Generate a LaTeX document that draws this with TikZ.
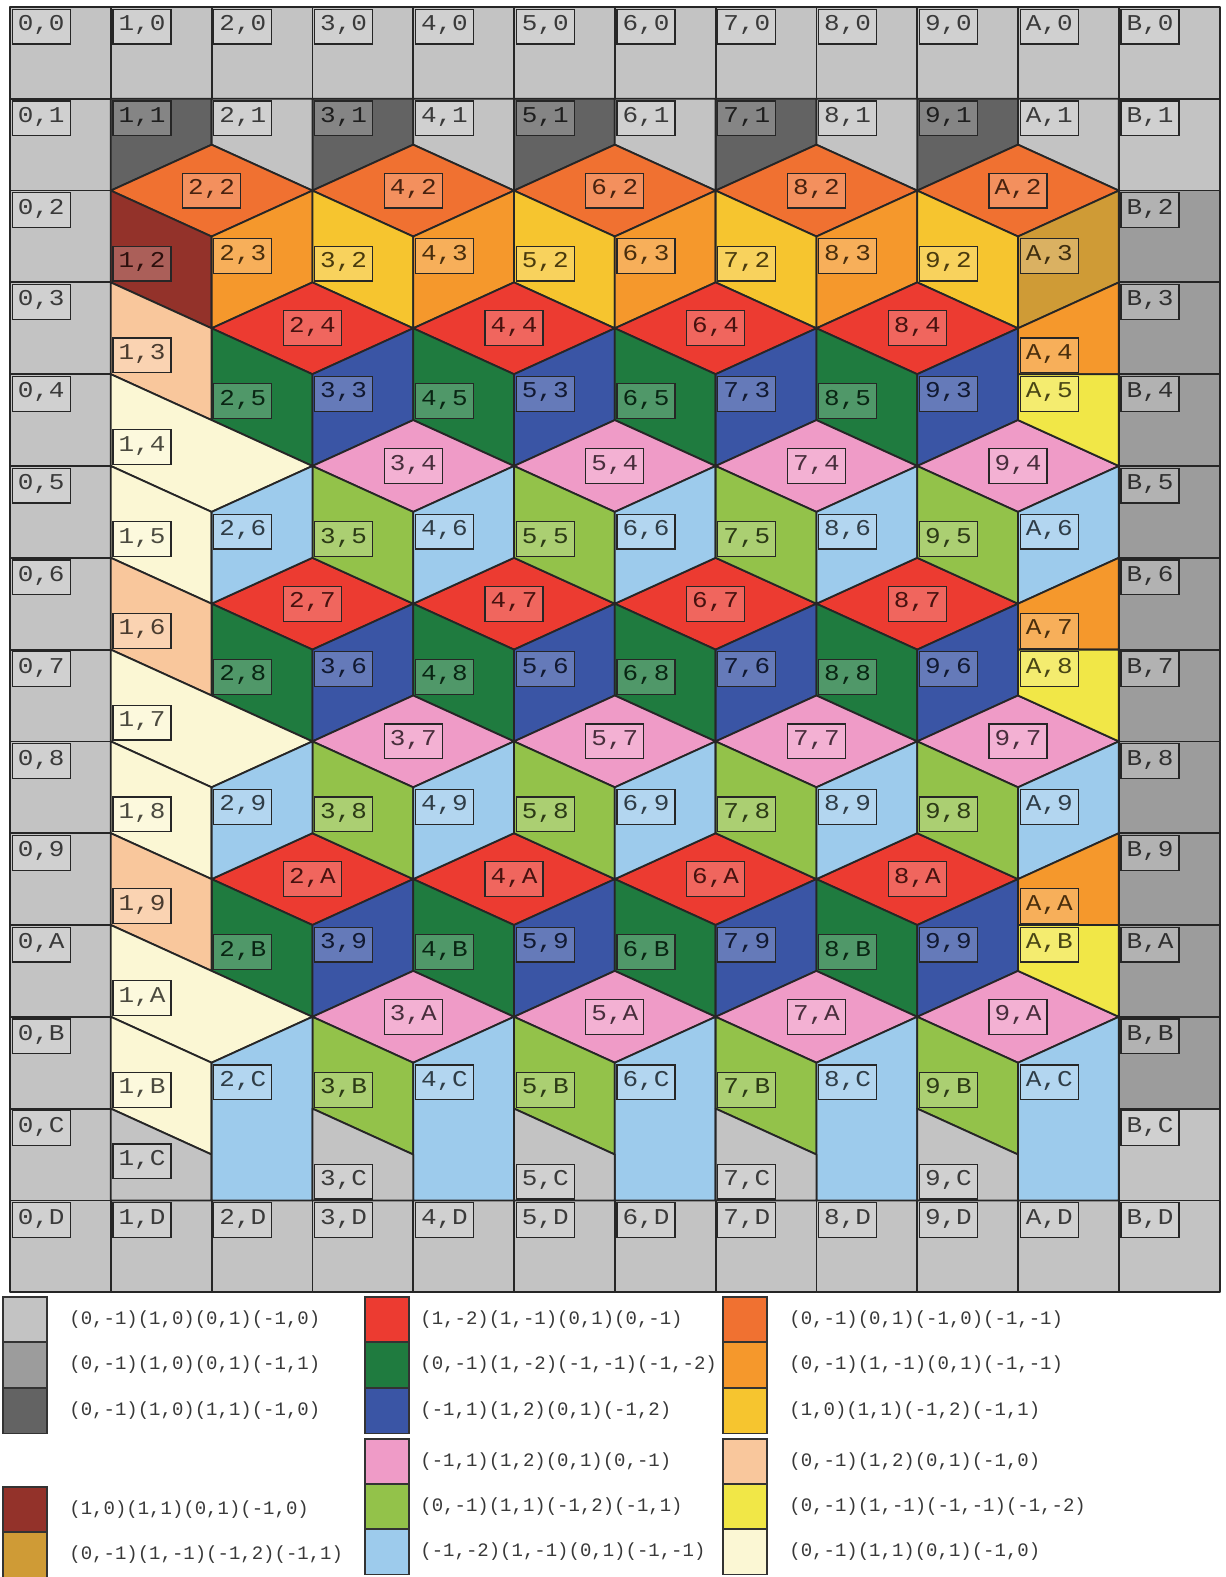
\documentclass[tikz,border=0pt]{standalone}
\usepackage{fontspec}
\usepackage{tikz}
\usetikzlibrary{positioning}
\newfontfamily\tagfont[FakeStretch=1.15]{Liberation Mono}
\newfontfamily\legfont{Liberation Mono}
\definecolor{lgray}{HTML}{C3C3C3}
\definecolor{mgray}{HTML}{9C9C9C}
\definecolor{dgray}{HTML}{636363}
\definecolor{brick}{HTML}{93322A}
\definecolor{ochre}{HTML}{CF9B36}
\definecolor{cubered}{HTML}{EC3B31}
\definecolor{cubegreen}{HTML}{1F7B3F}
\definecolor{cubeblue}{HTML}{3A55A5}
\definecolor{cubepink}{HTML}{EF9BC7}
\definecolor{leafgreen}{HTML}{93C24A}
\definecolor{skyblue}{HTML}{9DCBEC}
\definecolor{toporange}{HTML}{F07131}
\definecolor{sideorange}{HTML}{F5982C}
\definecolor{sideyellow}{HTML}{F6C52F}
\definecolor{peach}{HTML}{F9C79C}
\definecolor{lemon}{HTML}{F1E747}
\definecolor{cream}{HTML}{FBF7D4}
\tikzset{
  face/.style={fill=#1, draw=black!85, line width=0.9pt, line join=round},
  tag/.style={draw=black!85, line width=0.6pt, fill=#1!78!white, text=#1!30!black,
    font=\tagfont\fontsize{11.3pt}{13pt}\selectfont, text height=7.5pt, text depth=3.5pt,
    inner xsep=2pt, inner ysep=3.2pt, minimum width=29pt},
  nw/.style={anchor=north west, xshift=0.8pt, yshift=-0.8pt},
  sw/.style={anchor=south west, xshift=0.8pt, yshift=0.4pt},
  swatch/.style={draw=black!80, line width=0.8pt, fill=#1, anchor=north west,
    minimum width=22pt, minimum height=22.75pt, inner sep=0pt, outer sep=0pt},
  legtext/.style={font=\legfont\fontsize{9.5pt}{11pt}\selectfont, text=black!78, inner sep=0pt},
}
\newcommand{\lab}[2]{#1,#2}
% whole square of the grid
\newcommand{\gridcell}[5]{%
  \filldraw[face=#3] (#1,#2) rectangle ++(1,1);
  \node[tag=#3, nw] (n#4#5) at (#1,#2) {#4,#5};}
% cube: [flat bottom] x, y, top, left, right colour, top, left, right label
\newcommand{\cube}[9][]{%
  \filldraw[face=#4] (#2,#3-0.5) -- (#2+1,#3) -- (#2,#3+0.5) -- (#2-1,#3) -- cycle;
  \filldraw[face=#5] (#2-1,#3) -- (#2,#3+0.5) -- (#2,#3+1.5) -- (#2-1,#3+1) -- cycle;
  \if\relax\detokenize{#1}\relax
    \filldraw[face=#6] (#2,#3+0.5) -- (#2+1,#3) -- (#2+1,#3+1) -- (#2,#3+1.5) -- cycle;
  \else
    \filldraw[face=#6] (#2,#3+0.5) -- (#2+1,#3) -- (#2+1,#1) -- (#2,#1) -- cycle;
  \fi
  \node[tag=#4] (n#7) at (#2,#3) {\lab#7};
  \node[tag=#5, sw] (n#8) at (#2-1,#3+1) {\lab#8};
  \node[tag=#6, nw] (n#9) at (#2,#3+0.5) {\lab#9};}

\begin{document}
\begin{tikzpicture}[x=0.5pt, y=-0.5pt]
  \useasboundingbox[fill=white] (0,0) rectangle (1225,1577);
  \begin{scope}[shift={(10,7)}, x=50.4pt, y=-45.9pt]
    % frame of whole cells
    \foreach \rr/\nn in {0/0,1/1,2/2,3/3,4/4,5/5,6/6,7/7,8/8,9/9,10/A,11/B,12/C,13/D}
      {\gridcell{0}{\rr}{lgray}{0}{\nn}}
    \foreach \cc/\nn in {1/1,2/2,3/3,4/4,5/5,6/6,7/7,8/8,9/9,10/A,11/B}
      {\gridcell{\cc}{0}{lgray}{\nn}{0}\gridcell{\cc}{13}{lgray}{\nn}{D}}
    \gridcell{11}{1}{lgray}{B}{1}
    \foreach \rr/\nn in {2/2,3/3,4/4,5/5,6/6,7/7,8/8,9/9,10/A,11/B}
      {\gridcell{11}{\rr}{mgray}{B}{\nn}}
    \gridcell{11}{12}{lgray}{B}{C}

    % row 1
    \foreach \cc/\nn in {1/1,3/3,5/5,7/7,9/9} {
      \filldraw[face=dgray] (\cc,1) -- (\cc+1,1) -- (\cc+1,1.5) -- (\cc,2) -- cycle;
      \node[tag=dgray, nw] (n\nn1) at (\cc,1) {\nn,1};
    }
    \foreach \cc/\nn in {2/2,4/4,6/6,8/8,10/A} {
      \filldraw[face=lgray] (\cc,1) -- (\cc+1,1) -- (\cc+1,2) -- (\cc,1.5) -- cycle;
      \node[tag=lgray, nw] (n\nn1) at (\cc,1) {\nn,1};
    }

    % cubes
    \cube{2}{2}{toporange}{brick}{sideorange}{22}{12}{23}
    \foreach \cc/\xa/\xb in {4/4/3,6/6/5,8/8/7}
      {\cube{\cc}{2}{toporange}{sideyellow}{sideorange}{\xa2}{\xb2}{\xa3}}
    \cube{10}{2}{toporange}{sideyellow}{ochre}{A2}{92}{A3}
    \foreach \yy/\topl/\lefl/\rigl in {3.5/4/5/3, 6.5/7/8/6, 9.5/A/B/9}
      \foreach \cc/\xa/\xb in {3/2/3,5/4/5,7/6/7,9/8/9}
        {\cube{\cc}{\yy}{cubered}{cubegreen}{cubeblue}{\xa\topl}{\xa\lefl}{\xb\rigl}}
    \foreach \yy/\topl/\lefl/\rigl in {5/4/5/6, 8/7/8/9}
      \foreach \cc/\xa/\xb in {4/3/4,6/5/6,8/7/8,10/9/A}
        {\cube{\cc}{\yy}{cubepink}{leafgreen}{skyblue}{\xa\topl}{\xa\lefl}{\xb\rigl}}
    \foreach \cc/\xa/\xb in {4/3/4,6/5/6,8/7/8,10/9/A}
      {\cube[13]{\cc}{11}{cubepink}{leafgreen}{skyblue}{\xa A}{\xa B}{\xb C}}

    % left column
    \foreach \yy/\pa/\pb/\pc in {3/3/4/5, 6/6/7/8, 9/9/A/B} {
      \filldraw[face=peach] (1,\yy) -- (2,\yy+0.5) -- (2,\yy+1.5) -- (1,\yy+1) -- cycle;
      \node[tag=peach, sw] (n1\pa) at (1,\yy+1) {1,\pa};
      \filldraw[face=cream] (1,\yy+1) -- (2,\yy+1.5) -- (3,\yy+2) -- (2,\yy+2.5) -- (1,\yy+2) -- cycle;
      \node[tag=cream, sw] (n1\pb) at (1,\yy+2) {1,\pb};
      \filldraw[face=cream] (1,\yy+2) -- (2,\yy+2.5) -- (2,\yy+3.5) -- (1,\yy+3) -- cycle;
      \node[tag=cream, sw] (n1\pc) at (1,\yy+3) {1,\pc};
    }
    \filldraw[face=lgray] (1,12) -- (2,12.5) -- (2,13) -- (1,13) -- cycle;
    \node[tag=lgray, sw] (n1C) at (1,12.78) {1,C};

    % column 2
    \foreach \yy/\nn in {5/6, 8/9} {
      \filldraw[face=skyblue] (2,\yy+0.5) -- (3,\yy) -- (3,\yy+1) -- (2,\yy+1.5) -- cycle;
      \node[tag=skyblue, nw] (n2\nn) at (2,\yy+0.5) {2,\nn};
    }
    \filldraw[face=skyblue] (2,11.5) -- (3,11) -- (3,13) -- (2,13) -- cycle;
    \node[tag=skyblue, nw] (n2C) at (2,11.5) {2,C};

    % bottom grey pieces
    \foreach \cc in {3,5,7,9} {
      \filldraw[face=lgray] (\cc,12) -- (\cc+1,12.5) -- (\cc+1,13) -- (\cc,13) -- cycle;
      \node[tag=lgray, sw] (n\cc C) at (\cc,13) {\cc,C};
    }

    % column A
    \foreach \yy/\pa/\pb in {3/4/5, 6/7/8, 9/A/B} {
      \filldraw[face=sideorange] (10,\yy+0.5) -- (11,\yy) -- (11,\yy+1) -- (10,\yy+1) -- cycle;
      \node[tag=sideorange, sw] (nA\pa) at (10,\yy+1) {A,\pa};
      \filldraw[face=lemon] (10,\yy+1) -- (11,\yy+1) -- (11,\yy+2) -- (10,\yy+1.5) -- cycle;
      \node[tag=lemon, nw] (nA\pb) at (10,\yy+1) {A,\pb};
    }
  \end{scope}

  % legend
  \foreach \nm/\xx/\yy/\fc/\gap/\txt in {
      k1/3/1297/lgray/11/{(0,-1)(1,0)(0,1)(-1,0)},
      k2/3/1342/mgray/11/{(0,-1)(1,0)(0,1)(-1,1)},
      k3/3/1388/dgray/11/{(0,-1)(1,0)(1,1)(-1,0)},
      k4/3/1487/brick/11/{(1,0)(1,1)(0,1)(-1,0)},
      k5/3/1532/ochre/11/{(0,-1)(1,-1)(-1,2)(-1,1)},
      k6/365/1297/cubered/5.5/{(1,-2)(1,-1)(0,1)(0,-1)},
      k7/365/1342/cubegreen/5.5/{(0,-1)(1,-2)(-1,-1)(-1,-2)},
      k8/365/1388/cubeblue/5.5/{(-1,1)(1,2)(0,1)(-1,2)},
      k9/365/1439/cubepink/5.5/{(-1,1)(1,2)(0,1)(0,-1)},
      k10/365/1484/leafgreen/5.5/{(0,-1)(1,1)(-1,2)(-1,1)},
      k11/365/1529/skyblue/5.5/{(-1,-2)(1,-1)(0,1)(-1,-1)},
      k12/723/1297/toporange/11/{(0,-1)(0,1)(-1,0)(-1,-1)},
      k13/723/1342/sideorange/11/{(0,-1)(1,-1)(0,1)(-1,-1)},
      k14/723/1388/sideyellow/11/{(1,0)(1,1)(-1,2)(-1,1)},
      k15/723/1439/peach/11/{(0,-1)(1,2)(0,1)(-1,0)},
      k16/723/1484/lemon/11/{(0,-1)(1,-1)(-1,-1)(-1,-2)},
      k17/723/1529/cream/11/{(0,-1)(1,1)(0,1)(-1,0)}} {
    \node[swatch=\fc] (\nm) at (\xx,\yy) {};
    \node[legtext, right=\gap pt of \nm] (\nm t) {\txt};
  }
\end{tikzpicture}
\end{document}
